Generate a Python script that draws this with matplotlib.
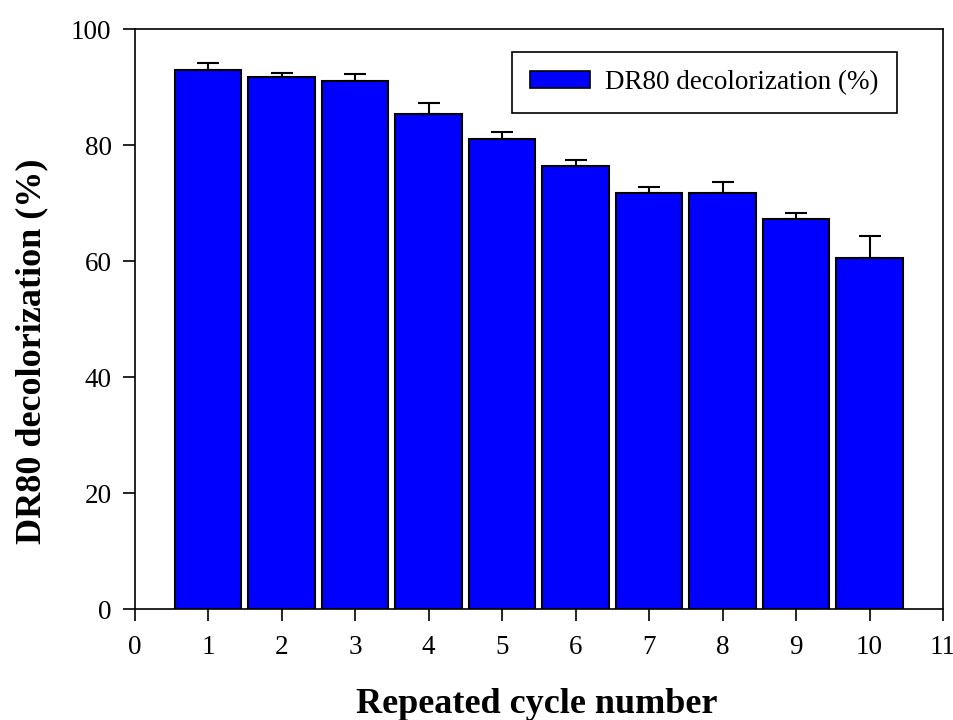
import numpy as np
import matplotlib.pyplot as plt
from matplotlib.patches import Patch

plt.rcParams['font.family'] = ['Liberation Serif', 'DejaVu Serif']

# Repeated-use cycles and dye removal
cycles = [1, 2, 3, 4, 5, 6, 7, 8, 9, 10]
decolorization = [93.0, 91.7, 91.1, 85.4, 81.1, 76.4, 71.8, 71.8, 67.2, 60.6]
std_err = [1.1, 0.8, 1.1, 1.8, 1.1, 1.1, 1.0, 1.8, 1.1, 3.7]

fig = plt.figure(figsize=(9.54, 7.2), dpi=100)
ax = fig.add_axes([0.1410, 0.1537, 0.8475, 0.8060])

ax.bar(cycles, decolorization, width=0.9, color='#0000FF', edgecolor='black',
       linewidth=1.5, zorder=2)
# one-sided error bars (upper only)
ax.errorbar(cycles, decolorization, yerr=[np.zeros(len(std_err)), std_err],
            fmt='none', ecolor='black', elinewidth=1.5, capsize=8, capthick=1.5,
            zorder=3)

ax.set_xlim(0, 11)
ax.set_ylim(0, 100)
ax.set_xticks(range(0, 12))
ax.set_yticks(range(0, 101, 20))
ax.tick_params(direction='out', length=8.5, width=1.2, labelsize=19.5)
ax.tick_params(axis='x', pad=10)
ax.tick_params(axis='y', pad=8)
for s in ax.spines.values():
    s.set_linewidth(1.2)

ax.set_xlabel('Repeated cycle number', fontsize=26, fontweight='bold')
ax.set_ylabel('DR80 decolorization (%)', fontsize=26, fontweight='bold')
ax.xaxis.set_label_coords(0.498, -0.135)
ax.yaxis.set_label_coords(-0.107, 0.445)

handle = Patch(facecolor='#0000FF', edgecolor='black', linewidth=1.2)
leg = ax.legend([handle], ['DR80 decolorization (%)'], loc='upper left',
                bbox_to_anchor=(0.4666, 0.961), fontsize=19.5, frameon=True,
                fancybox=False, edgecolor='black', framealpha=1,
                handlelength=2.2, handleheight=0.6, handletextpad=0.55,
                borderpad=0.68, borderaxespad=0)
leg.get_frame().set_linewidth(1.2)

fig.savefig('out.png', dpi=100)
